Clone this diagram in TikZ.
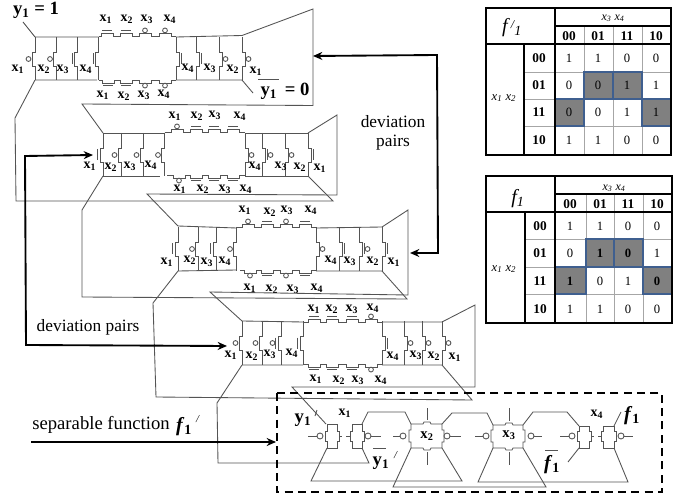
\documentclass[tikz,border=0pt]{standalone}
\usepackage{fontspec}
\setmainfont{Liberation Serif}
\usetikzlibrary{arrows.meta}
\definecolor{wire}{gray}{0.33}
\definecolor{cellgray}{gray}{0.5}
\definecolor{cellblue}{HTML}{3F5F8F}
\newcount\labn
\newcommand\lab[3]{\global\advance\labn by 1 \node[inner sep=0pt,text=black] (lab\the\labn) at (#1,#2) {#3};}
\newcommand\xl[3]{\lab{#1}{#2}{\fontsize{10.5}{12}\selectfont\textbf{x\textsubscript{#3}}}}
% vertical gate marks
\newcommand\vmb[3]{\draw[wire,fill=white] ({#1+#3*6.5},#2) circle (2.4);}
\newcommand\vmn[3]{\draw[wire] ({#1+#3*5.5},{#2-5.5}) -- ({#1+#3*5.5},{#2+5.5});}
\newcommand\vmc[3]{\vmn{#1}{#2}{#3}\draw[wire,fill=white] ({#1+#3*8.5},#2) circle (2.4);}
\newcommand\vg[6]{\draw[wire] (#1,#2) -- (#1,{#4-7}) -- ({#1+#5*3},{#4-7}) -- ({#1+#5*3},{#4+7}) -- (#1,{#4+7}) -- (#1,#3);
  \csname vm#6\endcsname{#1}{#4}{#5}}
% horizontal gate marks
\newcommand\hmb[3]{\draw[wire,fill=white] (#1,{#2+#3*5.6}) circle (2.4);}
\newcommand\hmn[3]{\draw[wire] ({#1-5},{#2+#3*5.5}) -- ({#1+5},{#2+#3*5.5});}
\newcommand\hchain[5]{% y, xa, xb, s, list c/t
  \draw[wire] (#2,#1) foreach \gc/\gt in {#5}{ -- ({\gc-6},#1) -- ({\gc-6},{#1+#4*3}) -- ({\gc+6},{#1+#4*3}) -- ({\gc+6},#1) } -- (#3,#1);
  \foreach \gc/\gt in {#5}{\csname hm\gt\endcsname{\gc}{#1}{#4}}}
\newcommand\crow[5]{% ytop ybot ym leftlist rightlist
  \foreach \gx/\gt in {#4}{\vg{\gx}{#1}{#2}{#3}{-1}{\gt}}
  \foreach \gx/\gt in {#5}{\vg{\gx}{#1}{#2}{#3}{1}{\gt}}}
% side-notched gate in the lower block
\newcommand\sgate[5]{% xl xr yt yb ym
  \draw[wire] (#1,#3) -- (#2,#3) -- (#2,{#5-5}) -- ({#2+2},{#5-5}) -- ({#2+2},{#5+5}) -- (#2,{#5+5}) -- (#2,#4) -- (#1,#4) -- (#1,{#5+5}) -- ({#1-2},{#5+5}) -- ({#1-2},{#5-5}) -- (#1,{#5-5}) -- cycle;}
\newcommand\fgate[6]{% xl xr yt yb ym xc : four-sided
  \draw[wire] (#1,#3) -- ({#6-4},#3) -- ({#6-3},{#3-2}) -- ({#6+3},{#3-2}) -- ({#6+4},#3) -- (#2,#3) -- (#2,{#5-6}) -- ({#2+2},{#5-6}) -- ({#2+2},{#5+6}) -- (#2,{#5+6}) -- (#2,#4) -- ({#6+4},#4) -- ({#6+3},{#4+2}) -- ({#6-3},{#4+2}) -- ({#6-4},#4) -- (#1,#4) -- (#1,{#5+6}) -- ({#1-2},{#5+6}) -- ({#1-2},{#5-6}) -- (#1,{#5-6}) -- cycle;}
\newcommand\bub[2]{\draw[wire,fill=white] (#1,#2) circle (3);}
% Karnaugh table
\newcommand\ktab[7]{%
 % #1 ytop, #2 y1(under x3x4), #3 y2(header bottom), #4 r1, #5 r2, #6 r3, #7 ybot ; xs from \kx macros
 \foreach \kk in {\kxc,\kxd,\kxe}{\draw[gray!70,line width=0.5pt] (\kk,#2) -- (\kk,#7);}
 \foreach \kk in {#4,#5,#6}{\draw[gray!70,line width=0.5pt] (\kxa,\kk) -- (\kxf,\kk);}
 \tikzset{hl/.style={fill=cellgray,draw=cellblue,line width=1pt}}
 \path[hl] (\kxc,#4) rectangle (\kxd,#5);
 \path[hl] (\kxd,#4) rectangle (\kxe,#5);
 \path[hl] (\kxb,#5) rectangle (\kxc,#6);
 \path[hl] (\kxe,#5) rectangle (\kxf,#6);
 \draw[black,line width=1.5pt] (\kxz,#1) rectangle (\kxf,#7);
 \draw[black,line width=1.5pt] (\kxb,#1) -- (\kxb,#7) (\kxa,#3) -- (\kxa,#7) (\kxz,#3) -- (\kxf,#3) (\kxb,#2) -- (\kxf,#2);
}
\begin{document}
\begin{tikzpicture}[x=0.75pt,y=-0.75pt,line width=0.65pt]
\useasboundingbox (0,0) rectangle (678,495);
\fill[white] (0,0) rectangle (678,495);

% ---- row 1
\crow{37}{80}{59}{35/b,56.5/b,77.5/n,98.5/n}{176/n,196/n,219/b,242/b}
\draw[wire] (35,37) -- (98.5,37) (35,80) -- (97,80) (176,37) -- (242,35.5) (176,80) -- (242,80);
\hchain{36}{98.5}{176}{-1}{107/n,126/n,145/b,165/b}
\hchain{80}{98.5}{176}{1}{108/n,126/n,145/b,165/b}
\xl{106}{19}{1}\xl{127}{19}{2}\xl{147}{19}{3}\xl{170}{19}{4}
\xl{103}{95}{1}\xl{124}{96}{2}\xl{144}{95}{3}\xl{164}{94}{4}
\xl{18}{69}{1}\xl{44}{69}{2}\xl{63}{69}{3}\xl{86}{69}{4}
\xl{188}{68}{4}\xl{210}{68}{3}\xl{233}{69}{2}\xl{256}{71}{1}
\lab{36}{10}{\fontsize{14}{16}\selectfont\textbf{y\textsubscript{1} = 1}}
\lab{285}{91}{\fontsize{14}{16}\selectfont\textbf{y\textsubscript{1}\,  = 0}}
\draw[wire] (258,79) -- (279,79);

% ---- row 2
\crow{133}{176}{155}{103/n,121/b,143/b,164.5/b}{245/b,262/c,285/b,308/n}
\draw[wire] (103,133) -- (164.5,133) (103,176) -- (160,176) (245,133) -- (308,133) (245,176) -- (308,176);
\hchain{132}{164.5}{245}{-1}{177/b,196/n,214/n,233/n}
\hchain{175}{167}{245}{1}{179/b,196/n,214/n,233/n}
\xl{175}{116}{1}\xl{197}{116}{2}\xl{215}{115}{3}\xl{240}{116}{4}
\xl{180}{189}{1}\xl{203}{189}{2}\xl{225}{189}{3}\xl{246}{189}{4}
\xl{90}{166}{1}\xl{111}{167}{2}\xl{130}{166}{3}\xl{151}{165}{4}
\xl{255}{166}{4}\xl{281}{166}{3}\xl{300}{167}{2}\xl{320}{168}{1}

% ---- row 3
\crow{227}{271}{249}{178/n,198.5/b,216/n,236.5/b}{316/b,339/n,359/c,382/n}
\draw[wire] (178,226) -- (236.5,228) (178,271) -- (236.5,270) (316,228) -- (382,227) (316,271) -- (382,271);
\hchain{227}{236.5}{316}{-1}{248/b,267/n,286/b,305/n}
\hchain{270}{240}{316}{1}{250/b,267/n,286/b,305/n}
\xl{245}{210}{1}\xl{270}{212}{2}\xl{287}{210}{3}\xl{311}{210}{4}
\xl{250}{288}{1}\xl{272}{289}{2}\xl{293}{289}{3}\xl{317}{288}{4}
\xl{167}{262}{1}\xl{190}{260}{2}\xl{207}{262}{3}\xl{225}{261}{4}
\xl{331}{260}{4}\xl{350}{261}{3}\xl{373}{261}{2}\xl{394}{262}{1}

% ---- row 4
\crow{321}{365}{343}{242/b,262/b,281/c,303/n}{382/n,404/b,422/b,442/b}
\draw[wire] (242,321) -- (303,322) (242,365) -- (303,365) (382,322) -- (442,322) (382,365) -- (442,365);
\hchain{322}{303}{382}{-1}{314/n,332/n,352/n,371/b}
\hchain{364}{303}{382}{1}{314/n,332/n,352/n,371/b}
\xl{314}{309}{1}\xl{332}{309}{2}\xl{352}{309}{3}\xl{373}{308}{4}
\xl{316}{379}{1}\xl{339}{380}{2}\xl{358}{380}{3}\xl{381}{380}{4}
\xl{231}{355}{1}\xl{252}{356}{2}\xl{270}{354}{3}\xl{292}{353}{4}
\xl{393}{356}{4}\xl{416}{355}{3}\xl{434}{356}{2}\xl{455}{357}{1}

% ---- wires between rows
\draw[wire] (35,37) -- (23,22);
\draw[wire] (242,35.5) -- (313,9) -- (313,105.5) -- (82,104) -- (103,133);
\draw[wire] (242,80) -- (253,93);
\draw[wire] (35,80) -- (15,118) -- (16,201) -- (333,201) -- (308,176);
\draw[wire] (308,133) -- (337,115) -- (337,195) -- (147,194) -- (178,226);
\draw[wire] (103,176) -- (82,210) -- (82,297) -- (407,299) -- (382,271);
\draw[wire] (382,227) -- (408,210) -- (408,295) -- (210,292) -- (242,321);
\draw[wire] (178,271) -- (153,303) -- (156,397) -- (472,400) -- (442,365);
\draw[wire] (442,322) -- (475,305) -- (475,387) -- (292,387) -- (326,424);
\draw[wire] (242,365) -- (217,403) -- (218,463) -- (369,463) -- (362,448);

% ---- lower block
\sgate{327}{337}{424}{448}{436}
\sgate{352}{362}{424}{448}{436}
\fgate{411}{442}{424}{448}{436}{427}
\fgate{493}{523}{425}{448}{436}{509}
\sgate{579}{589}{426}{448}{436}
\sgate{603}{614}{426}{448}{436}
\draw[wire] (308,436) -- (317,436) (339,436) -- (342,436) (346,436) -- (350,436) (371,436) -- (381,436);
\bub{320}{436}\bub{368}{436}
\draw[wire] (393,436) -- (400,436) (450,436) -- (461,436);
\bub{403}{436}\bub{447}{436}
\draw[wire] (475,436) -- (483,436) (534,436) -- (542,436);
\bub{486}{436}\bub{531}{436}
\draw[wire] (560,436) -- (569,436) (591,436) -- (594,436) (598,436) -- (601,436) (624,436) -- (633,436);
\bub{572}{436}\bub{621}{436}
\draw[wire] (427,408) -- (427,420) (427,452) -- (427,465) (509,408) -- (509,421) (509,452) -- (509,465);
\draw[wire] (362,424) -- (368,412) -- (405,412) -- (411,424);
\draw[wire] (442,424) -- (452,413) -- (487,413) -- (493,425);
\draw[wire] (523,425) -- (533,412) -- (567,412) -- (579,426);
\draw[wire] (614,426) -- (621,412);
\draw[wire] (579,448) -- (568,462);
\draw[wire] (327,448) -- (311,481) -- (462,481) -- (442,448);
\draw[wire] (411,448) -- (393,487) -- (546,487) -- (523,448);
\draw[wire] (493,448) -- (478,482) -- (628,482) -- (614,448);
\draw[wire] (317,410) -- (315,416);
\lab{303}{420}{\fontsize{14}{16}\selectfont\textbf{y\textsubscript{1}}}
\xl{345}{413}{1}
\lab{427}{436}{\fontsize{11}{12}\selectfont\textbf{x\textsubscript{2}}}
\lab{509}{435}{\fontsize{11}{12}\selectfont\textbf{x\textsubscript{3}}}
\xl{597}{414}{4}
\lab{381}{463}{\fontsize{14}{16}\selectfont\textbf{y\textsubscript{1}}}
\draw[wire] (373,448) -- (386,448);
\lab{396}{455}{\fontsize{8}{9}\selectfont\textit{/}}
\lab{632}{416}{\fontsize{15}{16}\selectfont\textbf{\textit{f}\textsubscript{1}}}
\lab{552}{465}{\fontsize{15}{16}\selectfont\textbf{\textit{f}\textsubscript{1}}}
\draw[wire] (545,450) -- (558,450);
\draw[black,line width=1.3pt,dash pattern=on 6pt off 4pt] (277,393) rectangle (662,492);

% ---- long arrows
\draw[black,line width=1.4pt,-{Stealth[length=7pt,width=6pt]}] (31,442) -- (276,442);
\draw[black,line width=1.4pt,{Stealth[length=7pt,width=6pt]}-{Stealth[length=7pt,width=6pt]}] (93,155) -- (25,156) -- (26,345) -- (227,346);
\draw[black,line width=1.4pt,{Stealth[length=7pt,width=6pt]}-{Stealth[length=7pt,width=6pt]}] (313,56) -- (437,55) -- (438,253) -- (410,253);
\lab{88}{327}{\fontsize{13}{15}\selectfont deviation pairs}
\lab{393}{122}{\fontsize{13}{15}\selectfont deviation}
\lab{393}{143}{\fontsize{13}{15}\selectfont pairs}
\lab{101}{425}{\fontsize{14}{16}\selectfont separable function}
\lab{184}{427}{\fontsize{15}{16}\selectfont\textbf{\textit{f}\textsubscript{1}}}
\lab{198}{419}{\fontsize{8}{9}\selectfont\textit{/}}

% ---- table f'1
\def\kxz{486}\def\kxa{524}\def\kxb{555}\def\kxc{584}\def\kxd{613}\def\kxe{642}\def\kxf{671}
\ktab{8}{26}{44}{72}{99}{126}{155}
\lab{613}{18}{\fontsize{9}{10}\selectfont\textit{x\textsubscript{3} x\textsubscript{4}}}
\lab{512}{28}{\fontsize{15}{16}\selectfont\textit{f\,\raisebox{3pt}{\fontsize{9}{10}\selectfont/}\textsubscript{1}}}
\lab{504}{98}{\fontsize{9.5}{10}\selectfont\textit{x\textsubscript{1} x\textsubscript{2}}}
\foreach \hx/\hv in {569/00,598/01,627/11,656/10}{\lab{\hx}{36}{\fontsize{10}{11}\selectfont\textbf{\hv}}}
\foreach \hy/\hv in {58/00,85/01,112/11,140/10}{\lab{539}{\hy}{\fontsize{10}{11}\selectfont\textbf{\hv}}}
\foreach \ry/\va/\vb/\vc/\vd in {58/1/1/0/0,85/0/0/1/1,112/0/0/1/1,140/1/1/0/0}{
  \lab{569}{\ry}{\fontsize{9.5}{11}\selectfont\va}\lab{598}{\ry}{\fontsize{9.5}{11}\selectfont\vb}\lab{627}{\ry}{\fontsize{9.5}{11}\selectfont\vc}\lab{656}{\ry}{\fontsize{9.5}{11}\selectfont\vd}}

% ---- table f1
\def\kxz{486}\def\kxa{525}\def\kxb{555}\def\kxc{586}\def\kxd{614}\def\kxe{643}\def\kxf{672}
\ktab{176}{194}{212}{239}{267}{294}{323}
\lab{614}{188}{\fontsize{9}{10}\selectfont\textit{x\textsubscript{3} x\textsubscript{4}}}
\lab{518}{199}{\fontsize{15}{16}\selectfont\textit{f\textsubscript{1}}}
\lab{504}{269}{\fontsize{9.5}{10}\selectfont\textit{x\textsubscript{1} x\textsubscript{2}}}
\foreach \hx/\hv in {570/00,600/01,628/11,657/10}{\lab{\hx}{204}{\fontsize{10}{11}\selectfont\textbf{\hv}}}
\foreach \hy/\hv in {226/00,253/01,281/11,309/10}{\lab{540}{\hy}{\fontsize{10}{11}\selectfont\textbf{\hv}}}
\foreach \ry/\va/\vb/\vc/\vd in {226/1/1/0/0,253/0/\textbf{1}/\textbf{0}/1,281/\textbf{1}/0/1/\textbf{0},309/1/1/0/0}{
  \lab{570}{\ry}{\fontsize{9.5}{11}\selectfont\va}\lab{600}{\ry}{\fontsize{9.5}{11}\selectfont\vb}\lab{628}{\ry}{\fontsize{9.5}{11}\selectfont\vc}\lab{657}{\ry}{\fontsize{9.5}{11}\selectfont\vd}}
\end{tikzpicture}
\end{document}
